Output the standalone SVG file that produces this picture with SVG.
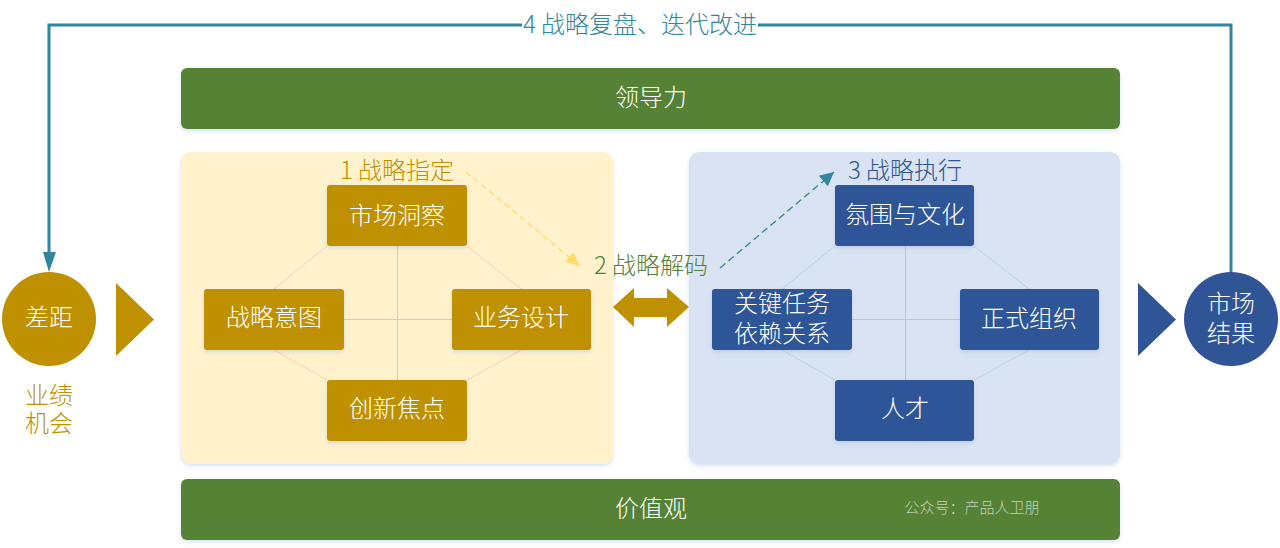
<svg xmlns="http://www.w3.org/2000/svg" width="1280" height="548" viewBox="0 0 1280 548">
<style>
text{font-family:"Noto Sans CJK SC","Noto Sans",sans-serif;text-anchor:middle;font-size:24px;font-weight:300}
.w{fill:#fff}
.g{fill:#548235}
.y{fill:#BF9000}
.b{fill:#2F5597}
.bar{fill:#548235;filter:url(#s)}
.panel{filter:url(#s)}
.yn{fill:#BF9000;filter:url(#s)}
.bn{fill:#2F5597;filter:url(#s)}
.yl{stroke:#F6BFA0;stroke-width:1;fill:none}
.bl{stroke:#A5CEDC;stroke-width:1;fill:none}
.faint{stroke-opacity:.7}
.teal{stroke:#31859C;fill:none}
</style>
<defs>
<filter id="s" x="-5%" y="-10%" width="110%" height="125%"><feDropShadow dx="0" dy="2" stdDeviation="2" flood-color="#8FAADC" flood-opacity="0.35"/></filter>
<marker id="at" markerUnits="userSpaceOnUse" markerWidth="14" markerHeight="20" refX="14" refY="7" orient="auto" viewBox="0 0 14 14"><path d="M0 0L14 7L0 14Z" fill="#31859C"/></marker>
<marker id="ay" markerUnits="userSpaceOnUse" markerWidth="14" markerHeight="14" refX="14" refY="7" orient="auto" viewBox="0 0 14 14"><path d="M0 1L14 7L0 13Z" fill="#FFD966"/></marker>
</defs>
<g id="panel-strategy"><rect class="panel" x="181" y="152" width="432" height="312" rx="10" fill="#FFF2CC"/></g>
<g id="panel-execution"><rect class="panel" x="689" y="152" width="431" height="312" rx="10" fill="#DAE3F3"/></g>
<g id="connectors">
<path class="yl faint" d="M327 246L274 289M467 246L521 289M274 350L327 380M521 350L467 380"/>
<path class="yl" d="M397.500 246V380M344 319.500H452"/>
<path class="bl faint" d="M835 246L782 289M974 246L1029 289M782 350L835 380M1029 350L974 380"/>
<path class="bl" d="M905.500 246V380M852 319.500H960"/>
<path class="teal" stroke-width="3" d="M1231 272V25H758M522 25H49V252"/>
<path d="M43 252H56L49 272Z" fill="#31859C"/>
<path d="M466 172L580 266" stroke="#FFD966" stroke-width="1.3" stroke-dasharray="6 4" fill="none" marker-end="url(#ay)"/>
<path d="M720 268L834 172" stroke="#31859C" stroke-width="1.3" stroke-dasharray="7 4" fill="none" marker-end="url(#at)"/>
</g>
<g id="bar-leadership"><rect class="bar" x="181" y="68" width="939" height="61" rx="6"/><text class="w" x="651" y="106">领导力</text></g>
<g id="bar-values"><rect class="bar" x="181" y="479" width="939" height="61" rx="6"/><text class="w" x="651" y="517">价值观</text><text x="972" y="513" fill="#C3D1B8" style="font-size:15px">公众号：产品人卫朋</text></g>
<g id="label-4"><text x="640" y="33" fill="#31859C">4 战略复盘、迭代改进</text></g>
<g id="label-1"><text class="y" x="397" y="179">1 战略指定</text></g>
<g id="label-2"><text class="g" x="651" y="274">2 战略解码</text></g>
<g id="label-3"><text class="b" x="905" y="179">3 战略执行</text></g>
<g id="n-market"><rect class="yn" x="327" y="185" width="140" height="61" rx="3"/><text class="w" x="397" y="224">市场洞察</text></g>
<g id="n-intent"><rect class="yn" x="204" y="289" width="140" height="61" rx="3"/><text class="w" x="274" y="326">战略意图</text></g>
<g id="n-design"><rect class="yn" x="452" y="289" width="139" height="61" rx="3"/><text class="w" x="521" y="326">业务设计</text></g>
<g id="n-focus"><rect class="yn" x="327" y="380" width="140" height="61" rx="3"/><text class="w" x="397" y="417">创新焦点</text></g>
<g id="n-culture"><rect class="bn" x="835" y="185" width="139" height="61" rx="3"/><text class="w" x="905" y="223">氛围与文化</text></g>
<g id="n-tasks"><rect class="bn" x="712" y="289" width="140" height="61" rx="3"/><text class="w" x="782" y="312">关键任务</text><text class="w" x="782" y="342">依赖关系</text></g>
<g id="n-org"><rect class="bn" x="960" y="289" width="139" height="61" rx="3"/><text class="w" x="1029" y="327">正式组织</text></g>
<g id="n-talent"><rect class="bn" x="835" y="380" width="139" height="61" rx="3"/><text class="w" x="905" y="417">人才</text></g>
<g id="n-gap"><circle cx="49" cy="319" r="47" fill="#BF9000"/><text class="w" x="49" y="326">差距</text></g>
<g id="n-result"><circle cx="1231" cy="319" r="47" fill="#2F5597"/><text class="w" x="1231" y="312">市场</text><text class="w" x="1231" y="342">结果</text></g>
<g id="label-opportunity"><text class="y" x="49" y="404">业绩</text><text class="y" x="49" y="432">机会</text></g>
<g id="arrow-left"><path d="M116 283L154 319.500L116 356Z" fill="#BF9000"/></g>
<g id="arrow-right"><path d="M1138 283L1176 319.500L1138 356Z" fill="#2F5597"/></g>
<g id="arrow-double"><path d="M613 307L634 288V298H667V288L689 307L667 327V317H634V327Z" fill="#BF9000"/></g>
</svg>
